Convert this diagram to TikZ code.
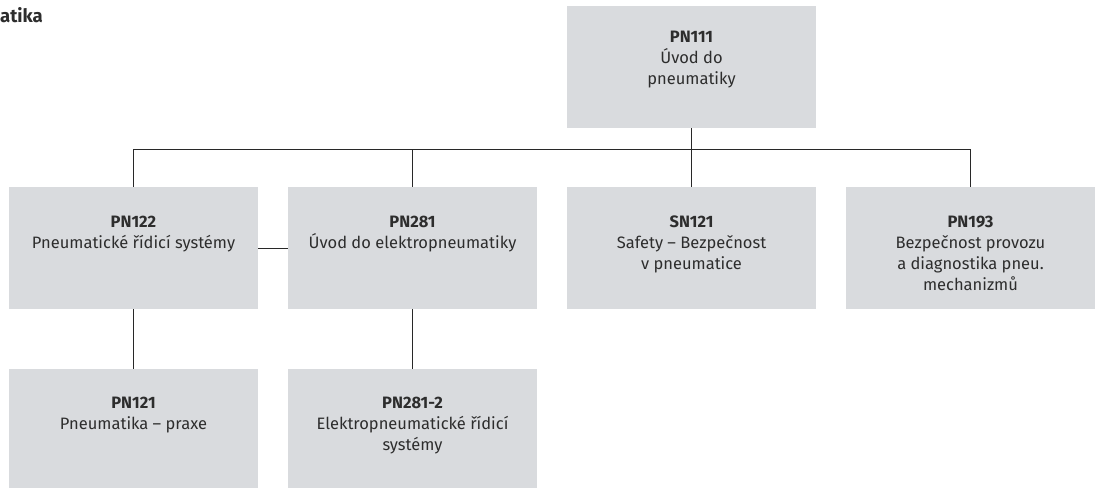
\documentclass[tikz,border=0pt]{standalone}
\usepackage{fontspec}
\setmainfont{Fira Sans}
\definecolor{boxgray}{RGB}{217,219,222}
\definecolor{txt}{RGB}{45,45,45}
\definecolor{ln}{RGB}{40,40,40}
\newcommand{\topstrut}{\rule{0pt}{15pt}}
\begin{document}
\begin{tikzpicture}[x=1pt,y=-1pt,
  box/.style={fill=boxgray, draw=none, inner sep=0pt, minimum width=249pt, minimum height=122pt},
  lowbox/.style={box, minimum height=119pt},
  boxtext/.style={anchor=north, align=center, inner sep=0pt, text=txt, font=\fontsize{16.5}{21}\selectfont},
  conn/.style={draw=ln, line width=1pt}]
\useasboundingbox (0,0) rectangle (1099,488);
% boxes
\node[box] (pn111) at (691.5,67) {};
\node[box] (pn122) at (133.5,248) {};
\node[box] (pn281) at (412.5,248) {};
\node[box] (sn121) at (691.5,248) {};
\node[box] (pn193) at (970.5,248) {};
\node[lowbox] (pn121) at (133.5,428.5) {};
\node[lowbox] (pn2812) at (412.5,428.5) {};
% connectors
\coordinate (bus) at (0,149);
\draw[conn] (pn122.north) |- (pn193.north |- bus) -- (pn193.north);
\draw[conn] (pn281.north) -- (pn281.north |- bus);
\draw[conn] (pn111.south) -- (sn121.north);
\draw[conn] (pn122.east) -- (pn281.west);
\draw[conn] (pn122.south) -- (pn121.north);
\draw[conn] (pn281.south) -- (pn2812.north);
% texts (north = first baseline - 15)
\node[anchor=base west, inner sep=0pt, text=txt, font=\fontsize{18.5}{20}\selectfont\bfseries] (title) at (0,22.7) {atika};
\node[boxtext] (t111) at (691.5,27) {\topstrut\textbf{PN111}\\Úvod do\\pneumatiky};
\node[boxtext] (t122) at (133.5,212) {\topstrut\textbf{PN122}\\Pneumatické řídicí systémy};
\node[boxtext] (t281) at (412.5,212) {\topstrut\textbf{PN281}\\Úvod do elektropneumatiky};
\node[boxtext] (t121s) at (691.5,212) {\topstrut\textbf{SN121}\\Safety – Bezpečnost\\v pneumatice};
\node[boxtext] (t193) at (970.5,212) {\topstrut\textbf{PN193}\\Bezpečnost provozu\\a diagnostika pneu.\\mechanizmů};
\node[boxtext] (t121) at (133.5,393) {\topstrut\textbf{PN121}\\Pneumatika – praxe};
\node[boxtext] (t2812) at (412.5,393) {\topstrut\textbf{PN281-2}\\Elektropneumatické řídicí\\systémy};
\end{tikzpicture}
\end{document}
